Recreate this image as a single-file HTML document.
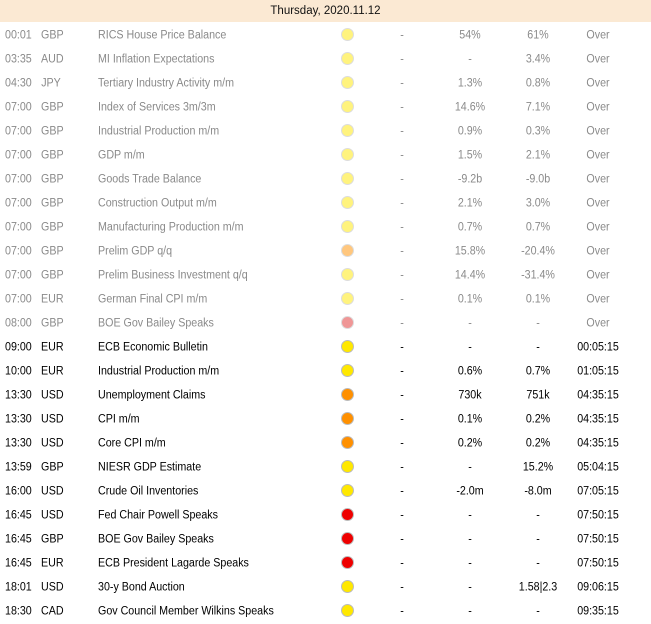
<!DOCTYPE html>
<html><head><meta charset="utf-8"><style>
body{margin:0;width:651px;height:624px;background:#fff;font-family:"Liberation Sans",Arial,sans-serif;font-size:10.7px;position:relative;overflow:hidden}
.hdr{position:absolute;left:0;top:0;width:651px;height:22px;background:#fbe9d3;text-align:center;line-height:22px;color:#111;font-size:11.5px}
.row{position:absolute;left:0;width:651px;height:24px;line-height:24px;color:#000}
.row.past{color:#8a8a8a}
.c{position:absolute;top:0;white-space:nowrap;transform:scaleY(1.1)}
.dot{position:absolute;left:341px;top:5px;width:13px;height:13px;border-radius:50%;border:1px solid #bbb;box-sizing:border-box}
.past .dot{opacity:.5}
</style></head><body>
<div class="hdr">Thursday, 2020.11.12</div>
<div id="t"></div>
<script>
const times=["00:01","03:35","04:30","07:00","07:00","07:00","07:00","07:00","07:00","07:00","07:00","07:00","08:00","09:00","10:00","13:30","13:30","13:30","13:59","16:00","16:45","16:45","16:45","18:01","18:30"];
const curs=["GBP","AUD","JPY","GBP","GBP","GBP","GBP","GBP","GBP","GBP","GBP","EUR","GBP","EUR","EUR","USD","USD","USD","GBP","USD","USD","GBP","EUR","USD","CAD"];
const events=["RICS House Price Balance","MI Inflation Expectations","Tertiary Industry Activity m/m","Index of Services 3m/3m","Industrial Production m/m","GDP m/m","Goods Trade Balance","Construction Output m/m","Manufacturing Production m/m","Prelim GDP q/q","Prelim Business Investment q/q","German Final CPI m/m","BOE Gov Bailey Speaks","ECB Economic Bulletin","Industrial Production m/m","Unemployment Claims","CPI m/m","Core CPI m/m","NIESR GDP Estimate","Crude Oil Inventories","Fed Chair Powell Speaks","BOE Gov Bailey Speaks","ECB President Lagarde Speaks","30-y Bond Auction","Gov Council Member Wilkins Speaks"];
const impact=["y","y","y","y","y","y","y","y","y","o","y","y","r","y","y","o","o","o","y","y","r","r","r","y","y"];
const actual=["54%","-","1.3%","14.6%","0.9%","1.5%","-9.2b","2.1%","0.7%","15.8%","14.4%","0.1%","-","-","0.6%","730k","0.1%","0.2%","-","-2.0m","-","-","-","-","-"];
const forecast=["61%","3.4%","0.8%","7.1%","0.3%","2.1%","-9.0b","3.0%","0.7%","-20.4%","-31.4%","0.1%","-","-","0.7%","751k","0.2%","0.2%","15.2%","-8.0m","-","-","-","1.58|2.3","-"];
const status=["Over","Over","Over","Over","Over","Over","Over","Over","Over","Over","Over","Over","Over","00:05:15","01:05:15","04:35:15","04:35:15","04:35:15","05:04:15","07:05:15","07:50:15","07:50:15","07:50:15","09:06:15","09:35:15"];
const colors={y:"#ffe800",o:"#ff9000",r:"#ee0000"};
const t=document.getElementById('t');
for(let i=0;i<times.length;i++){
 const r=document.createElement('div');
 
 
 r.className='row'+(status[i]==='Over'?' past':'');
 r.style.top=(23+i*24)+'px';
 const cell=(txt,style,name)=>{const d=document.createElement('div');d.className='c';d.textContent=txt;d.style.cssText=style;
  
  
  r.appendChild(d);};
 cell(times[i],'left:5px','time');
 cell(curs[i],'left:41px;width:20px;text-align:center','currency');
 cell(events[i],'left:98px','event-name');
 const dot=document.createElement('div');dot.className='dot';dot.style.background=colors[impact[i]];
 if(status[i]==='Over'&&impact[i]==='r')dot.style.background='#e03030';
 
 
 r.appendChild(dot);
 cell('-','left:392px;width:20px;text-align:center','previous');
 cell(actual[i],'left:430px;width:80px;text-align:center','actual');
 cell(forecast[i],'left:498px;width:80px;text-align:center','forecast');
 cell(status[i],'left:563px;width:70px;text-align:center','countdown');
 t.appendChild(r);
}
</script>
</body></html>
